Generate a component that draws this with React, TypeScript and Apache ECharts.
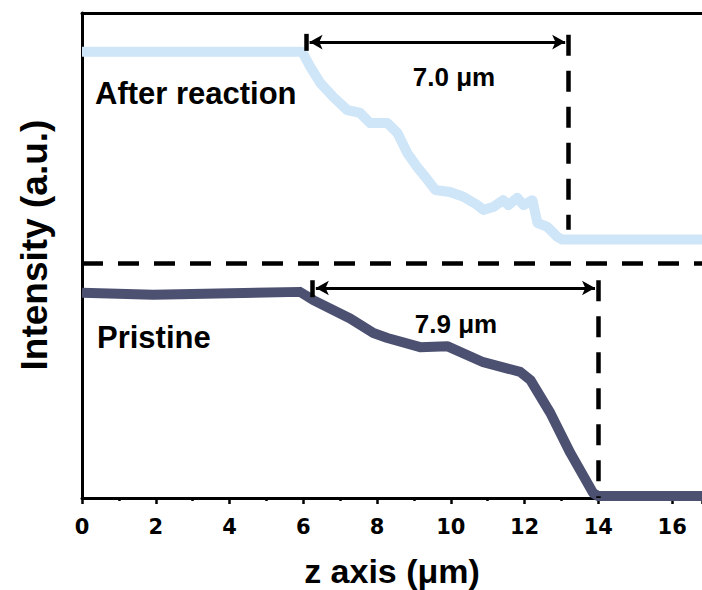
import React, { useEffect, useRef } from "react";
import * as echarts from "echarts";

// After reaction profile (z in µm, intensity in a.u.)
const zAfter = [0, 5.97, 6.19, 6.46, 6.81, 7.19, 7.54, 7.81, 8.28, 8.55, 8.82, 9.09, 9.31, 9.58, 9.98, 10.34, 10.72, 10.88, 11.15, 11.42, 11.56, 11.8, 11.97, 12.21, 12.35, 12.62, 12.89, 13.02, 17];
const intensityAfter = [92.0, 92.0, 88.9, 85.6, 82.7, 80.0, 79.4, 77.3, 77.3, 75.3, 71.1, 68.2, 66.2, 63.5, 63.1, 62.1, 60.4, 59.4, 60.0, 61.4, 60.4, 61.9, 60.4, 61.4, 56.7, 55.9, 53.8, 53.3, 53.3];

// Pristine profile
const zPristine = [0, 1.93, 5.91, 6.27, 7.27, 7.9, 8.28, 9.17, 9.9, 10.88, 11.88, 12.16, 12.7, 13.24, 13.86, 14.0, 17];
const intensityPristine = [42.3, 41.9, 42.5, 40.8, 37.0, 34.0, 33.0, 31.1, 31.3, 28.0, 26.0, 24.3, 17.5, 9.3, 1.0, 0.4, 0.4];

// Thickness annotations
const afterStart = 6.08;
const afterEnd = 13.19;
const pristineStart = 6.25;
const pristineEnd = 14.0;
const separatorLevel = 48.45;
const afterArrowLevel = 94.0;
const pristineArrowLevel = 43.3;
const afterLabel = "7.0 μm";
const pristineLabel = "7.9 μm";

const FONT = "'Liberation Sans', Arial, sans-serif";

export default function App() {
  const ref = useRef<HTMLDivElement>(null);
  useEffect(() => {
    if (!ref.current) return;
    const chart = echarts.init(ref.current, null, { renderer: "svg" });
    const dash = [21, 15];
    const black = "#000";
    const arrowTipGap = 0.09;
    const option: any = {
      animation: false,
      backgroundColor: "#fff",
      grid: { left: 82, top: 13, right: 0, bottom: 92, containLabel: false, outerBoundsMode: "none" },
      xAxis: [
        {
          type: "value",
          min: 0,
          max: 16.81,
          interval: 2,
          position: "bottom",
          axisLine: { show: true, onZero: false, lineStyle: { color: black, width: 3 } },
          axisTick: { show: true, inside: false, length: 6, lineStyle: { color: black, width: 2.5 } },
          minorTick: { show: true, splitNumber: 2, length: 3, lineStyle: { color: black, width: 2.5 } },
          splitLine: { show: false },
          axisLabel: {
            show: true,
            margin: 18,
            color: "#000",
            fontFamily: "DejaVu Sans",
            fontWeight: "bold",
            fontSize: 21,
            showMaxLabel: false,
          },
          name: "z axis (μm)",
          nameLocation: "middle",
          nameGap: 56,
          nameTextStyle: { color: black, fontFamily: FONT, fontWeight: "bold", fontSize: 34 },
        },
        {
          type: "value",
          min: 0,
          max: 16.81,
          position: "top",
          axisLine: { show: true, onZero: false, lineStyle: { color: black, width: 3 } },
          axisTick: { show: false },
          axisLabel: { show: false },
          splitLine: { show: false },
        },
      ],
      yAxis: {
        type: "value",
        min: 0,
        max: 100,
        axisLine: { show: true, onZero: false, lineStyle: { color: black, width: 3 } },
        axisTick: { show: false },
        axisLabel: { show: false },
        splitLine: { show: false },
      },
      series: [
        {
          name: "After reaction",
          type: "line",
          data: zAfter.map((z, i) => [z, intensityAfter[i]]),
          showSymbol: false,
          symbol: "none",
          lineStyle: { color: "#cfe5f8", width: 10, join: "round", cap: "butt" },
          z: 2,
        },
        {
          name: "Pristine",
          type: "line",
          data: zPristine.map((z, i) => [z, intensityPristine[i]]),
          showSymbol: false,
          symbol: "none",
          lineStyle: { color: "#4d5171", width: 10, join: "round", cap: "butt" },
          z: 2,
          markLine: {
            silent: true,
            symbol: "none",
            label: { show: false },
            z: 5,
            data: [
              [
                { coord: [0, separatorLevel], lineStyle: { color: black, width: 4.5, type: dash } },
                { coord: [16.81, separatorLevel] },
              ],
              [
                { coord: [afterEnd, 95.5], lineStyle: { color: black, width: 4.5, type: dash } },
                { coord: [afterEnd, 55.3] },
              ],
              [
                { coord: [afterStart, 95.7], lineStyle: { color: black, width: 4.5, type: "solid" } },
                { coord: [afterStart, 92.2] },
              ],
              [
                { coord: [afterStart + arrowTipGap, afterArrowLevel], symbol: "arrow", symbolSize: [11, 13], lineStyle: { color: black, width: 3, type: "solid" } },
                { coord: [afterEnd - arrowTipGap, afterArrowLevel], symbol: "arrow", symbolSize: [11, 13] },
              ],
              [
                { coord: [pristineEnd, 44.9], lineStyle: { color: black, width: 4.5, type: dash } },
                { coord: [pristineEnd, 0] },
              ],
              [
                { coord: [pristineStart, 44.9], lineStyle: { color: black, width: 4.5, type: "solid" } },
                { coord: [pristineStart, 41.4] },
              ],
              [
                { coord: [pristineStart + arrowTipGap, pristineArrowLevel], symbol: "arrow", symbolSize: [11, 13], lineStyle: { color: black, width: 3, type: "solid" } },
                { coord: [pristineEnd - arrowTipGap, pristineArrowLevel], symbol: "arrow", symbolSize: [11, 13] },
              ],
            ],
          },
        },
      ],
      graphic: [
        {
          type: "text",
          x: 34,
          y: 245,
          rotation: Math.PI / 2,
          style: { text: "Intensity (a.u.)", fill: black, font: `bold 37px ${FONT}`, align: "center", verticalAlign: "middle" },
        },
        {
          type: "text",
          x: 95,
          y: 93,
          style: { text: "After reaction", fill: black, font: `bold 31px ${FONT}`, align: "left", verticalAlign: "middle" },
        },
        {
          type: "text",
          x: 97,
          y: 337,
          style: { text: "Pristine", fill: black, font: `bold 31px ${FONT}`, align: "left", verticalAlign: "middle" },
        },
        {
          type: "text",
          x: 454,
          y: 77,
          style: { text: afterLabel, fill: black, font: `bold 26px ${FONT}`, align: "center", verticalAlign: "middle" },
        },
        {
          type: "text",
          x: 456,
          y: 324,
          style: { text: pristineLabel, fill: black, font: `bold 26px ${FONT}`, align: "center", verticalAlign: "middle" },
        },
      ],
    };
    chart.setOption(option);
    return () => chart.dispose();
  }, []);
  return <div ref={ref} style={{ width: 702, height: 590, position: "absolute", left: 0, top: 0 }} />;
}
